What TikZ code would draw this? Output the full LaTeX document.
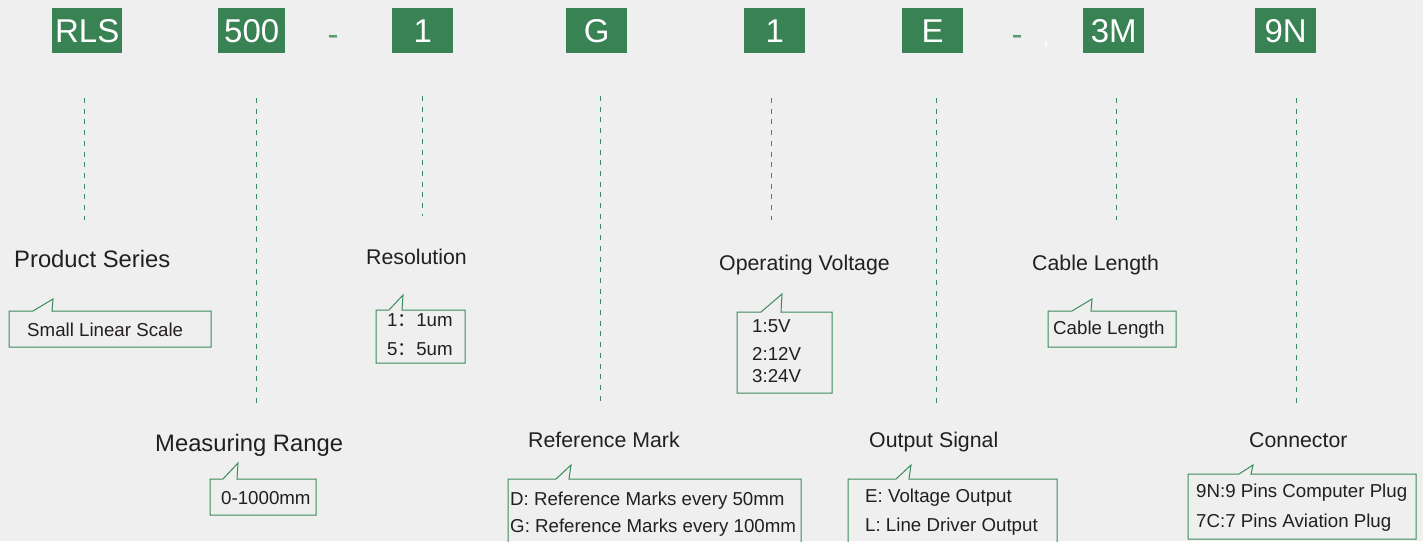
\documentclass[tikz,border=0pt]{standalone}
\usepackage{fontspec}
\setmainfont{Liberation Sans}
\newfontfamily\cjk{Noto Sans CJK SC}
\definecolor{bg}{RGB}{239,239,239}
\definecolor{gr}{RGB}{56,130,84}
\definecolor{ln}{RGB}{58,139,90}
\definecolor{dashgr}{RGB}{90,155,112}
\definecolor{tx}{RGB}{35,31,32}
\begin{document}
\begin{tikzpicture}[x=1pt,y=-1pt,
  code/.style={fill=gr, text=white, font=\fontsize{33}{36}\selectfont, minimum height=45pt,
    inner sep=0pt, anchor=north west, text height=23.6pt, text depth=0pt},
  gdash/.style={draw=ln, line width=1pt, dash pattern=on 5pt off 5.7pt},
  callout/.style={draw=ln, line width=1pt, line join=miter},
  hd/.style={font=\fontsize{21.3}{25}\selectfont, text=tx, anchor=base west, inner sep=0pt},
  hdl/.style={font=\fontsize{23.8}{28}\selectfont, text=tx, anchor=base west, inner sep=0pt},
  sm/.style={font=\fontsize{18.7}{22}\selectfont, text=tx, anchor=base west, inner sep=0pt},
  sep/.style={font=\fontsize{33}{36}\selectfont, inner sep=0pt, anchor=base}
]
\fill[bg] (0,0) rectangle (1423,541);
\useasboundingbox (0,0) rectangle (1423,541);
\clip (0,0) rectangle (1423,541);

% code boxes
\node[code, minimum width=70pt] (cRLS) at (52,8) {RLS};
\node[code, minimum width=67pt] (c500) at (218,8) {500};
\node[code, minimum width=61pt] (c1a) at (392,8) {1};
\node[code, minimum width=61pt] (cG) at (566,8) {G};
\node[code, minimum width=61pt] (c1b) at (744,8) {1};
\node[code, minimum width=61pt] (cE) at (902,8) {E};
\node[code, minimum width=61pt] (c3M) at (1083,8) {3M};
\node[code, minimum width=61pt] (c9N) at (1255,8) {9N};
\node[sep, text=dashgr] (d1) at (333,45) {-};
\node[sep, text=dashgr] (d2) at (1017,45) {-};
\node[sep, text=white, font=\fontsize{22}{24}\selectfont] (cm) at (1046,44) {,};

% dashed guide lines
\coordinate (t1) at (84,98);   \coordinate (b1) at (84,220);
\coordinate (t2) at (256,98);  \coordinate (b2) at (256,408);
\coordinate (t3) at (422,96);  \coordinate (b3) at (422,216);
\coordinate (t4) at (600,96);  \coordinate (b4) at (600,405);
\coordinate (t5) at (771,98);  \coordinate (b5) at (771,220);
\coordinate (t6) at (936,98);  \coordinate (b6) at (936,408);
\coordinate (t7) at (1116,98); \coordinate (b7) at (1116,220);
\coordinate (t8) at (1296,98); \coordinate (b8) at (1296,408);
\foreach \i in {1,...,8} \draw[gdash] (t\i) -- (b\i);

% headings
\node[hdl] (hPS) at (14,267) {Product Series};
\node[hdl] (hMR) at (155,451) {Measuring Range};
\node[hd] (hRes) at (366,264.5) {Resolution};
\node[hd] (hRM) at (528,447.5) {Reference Mark};
\node[hd] (hOV) at (719,270.5) {Operating Voltage};
\node[hd] (hOS) at (869,447.5) {Output Signal};
\node[hd] (hCL) at (1032,270.5) {Cable Length};
\node[hd] (hCon) at (1249,447.5) {Connector};

% callouts
\draw[callout] (9,311) -- (33,311) -- (53,299) -- (52,311) -- (211,311) -- (211,347) -- (9,347) -- cycle;
\node[sm] (tSLS) at (27,336) {Small Linear Scale};

\draw[callout] (376,310) -- (389,310) -- (403,295) -- (402,310) -- (465,310) -- (465,363) -- (376,363) -- cycle;
\node[sm] (tR1) at (387,326) {1{\cjk ：}1um};
\node[sm] (tR5) at (387,355) {5{\cjk ：}5um};

\draw[callout] (737,312) -- (761,312) -- (782,294) -- (781,312) -- (832,312) -- (832,393) -- (737,393) -- cycle;
\node[sm] (tV1) at (752,332) {1:5V};
\node[sm] (tV2) at (752,360) {2:12V};
\node[sm] (tV3) at (752,382) {3:24V};

\draw[callout] (1048,311) -- (1072,311) -- (1092,299) -- (1091,311) -- (1176,311) -- (1176,347) -- (1048,347) -- cycle;
\node[sm] (tCL) at (1053,334) {Cable Length};

\draw[callout] (210,479) -- (223,479) -- (238,463) -- (237,479) -- (316,479) -- (316,515) -- (210,515) -- cycle;
\node[sm] (tMR) at (221,504) {0-1000mm};

\draw[callout] (508,479) -- (556,479) -- (571,465) -- (569,479) -- (801,479) -- (801,560) -- (508,560) -- cycle;
\node[sm] (tD) at (510,505) {D: Reference Marks every 50mm};
\node[sm] (tG) at (510,532) {G: Reference Marks every 100mm};

\draw[callout] (848,479) -- (896,479) -- (911,465) -- (909,479) -- (1057,479) -- (1057,560) -- (848,560) -- cycle;
\node[sm] (tE) at (865,502) {E: Voltage Output};
\node[sm] (tL) at (865,531) {L: Line Driver Output};

\draw[callout] (1188,474) -- (1239,474) -- (1253,465) -- (1251,474) -- (1416,474) -- (1416,539) -- (1188,539) -- cycle;
\node[sm] (t9N) at (1196,497) {9N:9 Pins Computer Plug};
\node[sm] (t7C) at (1196,527) {7C:7 Pins Aviation Plug};
\end{tikzpicture}
\end{document}
